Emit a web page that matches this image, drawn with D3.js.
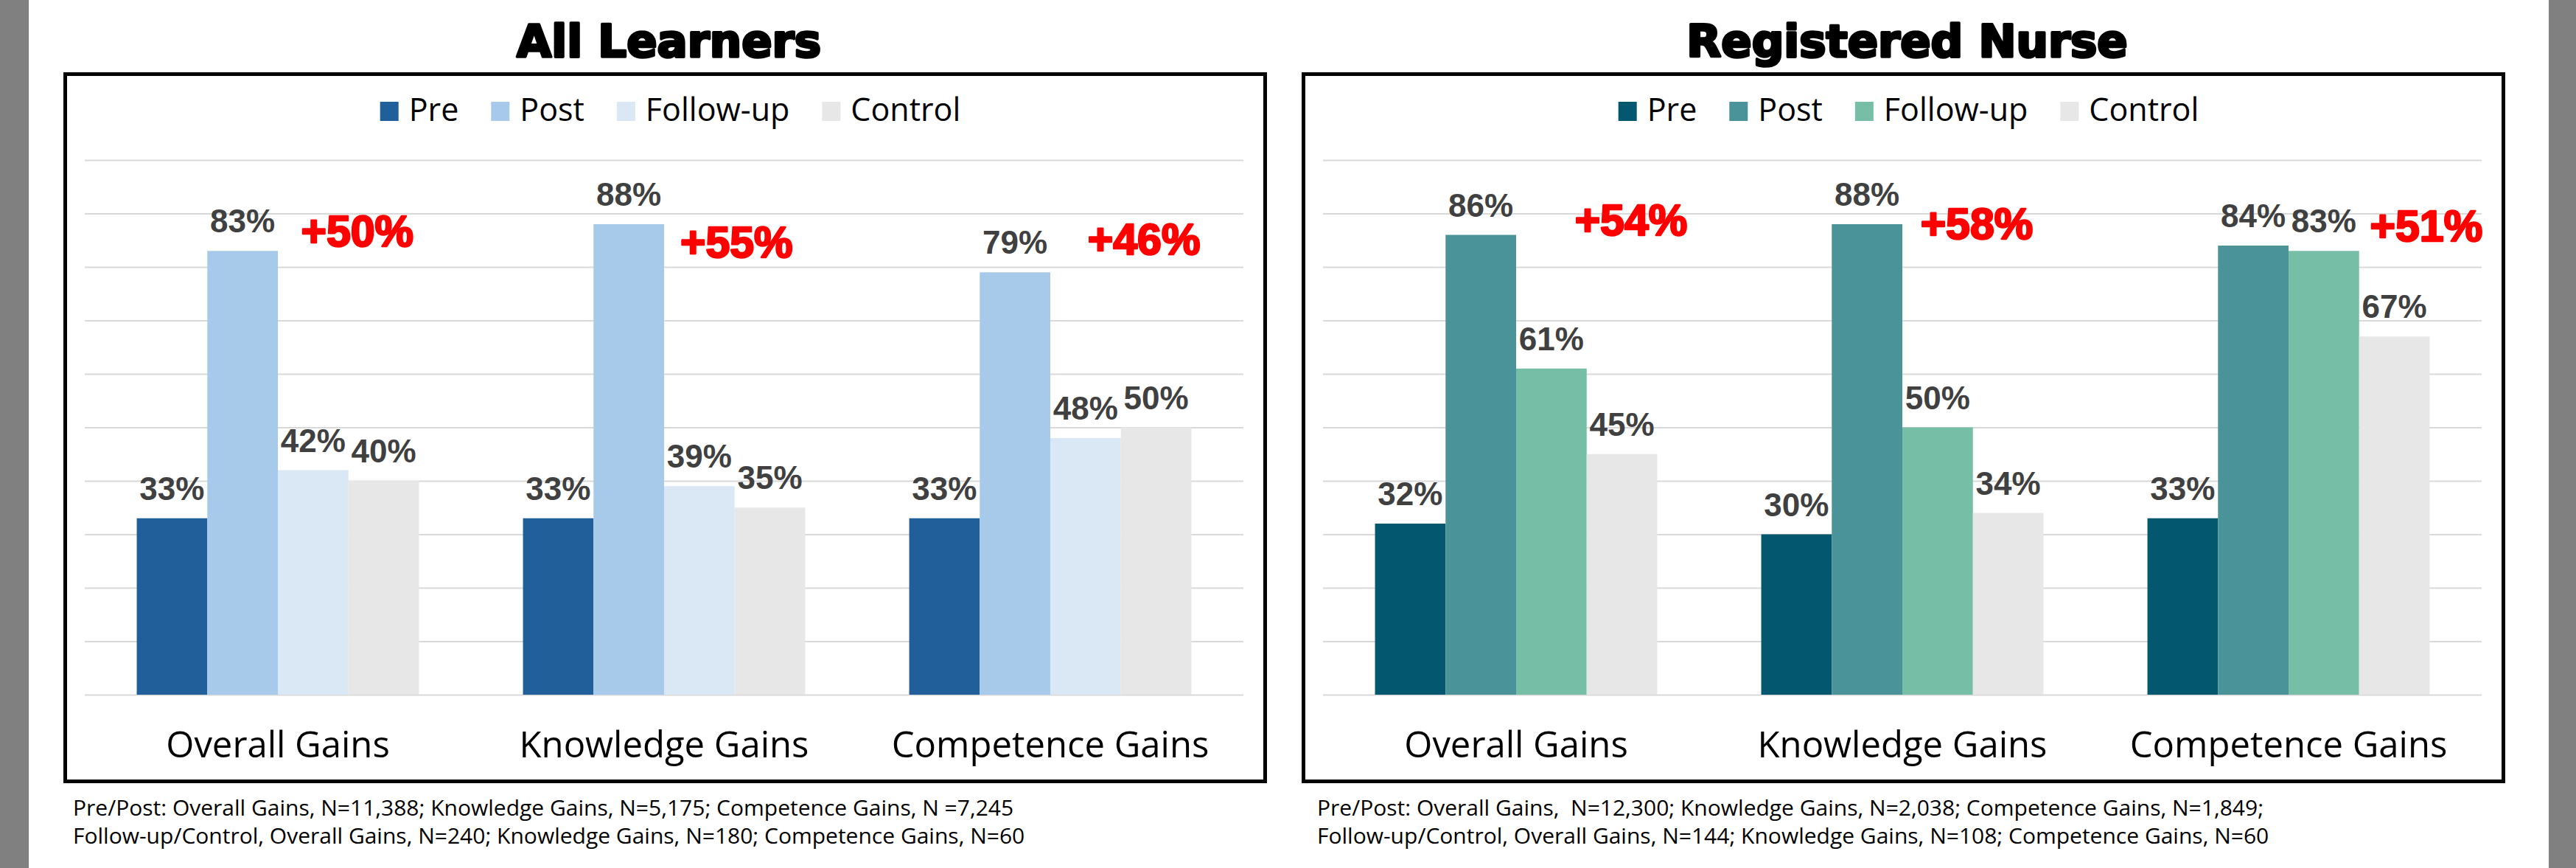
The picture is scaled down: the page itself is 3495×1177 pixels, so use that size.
<!DOCTYPE html>
<html>
<head>
<meta charset="utf-8">
<script src="https://cdn.jsdelivr.net/npm/d3@7"></script>
<style>
  html, body { margin: 0; padding: 0; background: #fff; }
  svg { display: block; }
</style>
</head>
<body>
<div id="chart"></div>
<script>
const categories = ["Overall Gains", "Knowledge Gains", "Competence Gains"];
const seriesNames = ["Pre", "Post", "Follow-up", "Control"];
const yTicks = [0, 10, 20, 30, 40, 50, 60, 70, 80, 90, 100];

// All Learners
const allPre = [33, 33, 33];
const allPost = [83, 88, 79];
const allFollowUp = [42, 39, 48];
const allControl = [40, 35, 50];
const allGains = ["+50%", "+55%", "+46%"];
const allNotes = [
    "Pre/Post: Overall Gains, N=11,388; Knowledge Gains, N=5,175; Competence Gains, N =7,245",
    "Follow-up/Control, Overall Gains, N=240; Knowledge Gains, N=180; Competence Gains, N=60"
];

// Registered Nurse
const rnPre = [32, 30, 33];
const rnPost = [86, 88, 84];
const rnFollowUp = [61, 50, 83];
const rnControl = [45, 34, 67];
const rnGains = ["+54%", "+58%", "+51%"];
const rnNotes = [
    "Pre/Post: Overall Gains,  N=12,300; Knowledge Gains, N=2,038; Competence Gains, N=1,849;",
    "Follow-up/Control, Overall Gains, N=144; Knowledge Gains, N=108; Competence Gains, N=60"
];

const allColors = ["#215F9A", "#A7CAEB", "#DAE8F6", "#E7E7E7"];
const rnColors = ["#03576F", "#4A9399", "#77BEA6", "#E7E7E7"];

// red gain labels: [fraction across category band, height in % units]
const allGainPos = [[0.56, 83.8], [0.542, 81.8], [0.597, 82.3]];
const rnGainPos = [[0.652, 85.9], [0.547, 85.2], [0.711, 84.8]];

const W = 3495, H = 1177;
const svg = d3.select("#chart").append("svg")
    .attr("width", W)
    .attr("height", H);

svg.append("rect").attr("x", 0).attr("y", 0).attr("width", 39).attr("height", H).attr("fill", "#808080");
svg.append("rect").attr("x", 3458).attr("y", 0).attr("width", W - 3458).attr("height", H).attr("fill", "#808080");

function drawPanel(opt) {
    const boxW = 1633, boxTop = 98, boxBottom = 1062;
    const plotLeft = opt.left + 29, plotW = 1572;
    const plotTop = 217, plotH = 725;

    const root = svg.append("g");

    root.append("rect")
        .attr("x", opt.left + 2.5)
        .attr("y", boxTop + 2.5)
        .attr("width", boxW - 5)
        .attr("height", boxBottom - boxTop - 5)
        .attr("fill", "#fff")
        .attr("stroke", "#000")
        .attr("stroke-width", 5);

    root.append("text")
        .attr("x", opt.left + boxW / 2 + 5)
        .attr("y", 77)
        .attr("text-anchor", "middle")
        .style("font-family", "'DejaVu Sans'")
        .style("font-weight", "bold")
        .style("font-size", "61px")
        .attr("fill", "#000")
        .attr("stroke", "#000")
        .attr("stroke-width", 3.5)
        .attr("stroke-linejoin", "round")
        .text(opt.title);

    // legend
    const leg = root.append("g");
    let lx = 0;
    seriesNames.forEach((s, i) => {
        leg.append("rect")
            .attr("x", lx).attr("y", 138)
            .attr("width", 25).attr("height", 26)
            .attr("fill", opt.colors[i]);
        const t = leg.append("text")
            .attr("x", lx + 39).attr("y", 164)
            .style("font-family", "'Open Sans'")
            .style("font-size", "43px")
            .attr("fill", "#000")
            .text(s);
        lx += 39 + t.node().getComputedTextLength() + 44;
    });
    const legW = lx - 44;
    leg.attr("transform", `translate(${opt.left + boxW / 2 + 7 - legW / 2},0)`);

    const g = root.append("g")
        .attr("transform", `translate(${plotLeft},${plotTop})`);

    const x0 = d3.scaleBand().domain(categories).range([0, plotW]);
    const x1 = d3.scaleBand().domain(seriesNames).range([0, x0.bandwidth()])
        .paddingInner(0).paddingOuter(0.737);
    const y = d3.scaleLinear().domain([0, 100]).range([plotH, 0]);

    g.append("g")
        .attr("class", "grid")
        .call(d3.axisLeft(y).tickValues(yTicks).tickSize(-plotW).tickFormat(""))
        .call(a => a.select(".domain").remove())
        .call(a => a.selectAll("line").attr("stroke", "#D9D9D9").attr("stroke-width", 2.2));

    g.append("g")
        .attr("class", "x axis")
        .attr("transform", `translate(0,${plotH})`)
        .call(d3.axisBottom(x0).tickSize(0))
        .call(a => a.select(".domain").remove())
        .call(a => a.selectAll("text")
            .attr("dy", null)
            .attr("y", 85)
            .style("font-family", "'Open Sans'")
            .style("font-size", "49px")
            .attr("fill", "#000"));

    const rows = [];
    categories.forEach((c, ci) => {
        seriesNames.forEach((s, si) => {
            rows.push({ cat: c, series: s, value: opt.series[si][ci], color: opt.colors[si] });
        });
    });

    g.selectAll(".bar")
        .data(rows)
        .enter().append("rect")
        .attr("class", "bar")
        .attr("x", d => x0(d.cat) + x1(d.series))
        .attr("width", x1.bandwidth())
        .attr("y", d => y(d.value))
        .attr("height", d => y(0) - y(d.value))
        .attr("fill", d => d.color);

    g.selectAll(".val")
        .data(rows)
        .enter().append("text")
        .attr("class", "val")
        .attr("x", d => x0(d.cat) + x1(d.series) + x1.bandwidth() / 2)
        .attr("y", d => y(d.value) - 25)
        .attr("text-anchor", "middle")
        .style("font-family", "'Liberation Sans'")
        .style("font-weight", "bold")
        .style("font-size", "44px")
        .attr("fill", "#404040")
        .text(d => d.value + "%");

    g.selectAll(".gain")
        .data(opt.gains)
        .enter().append("text")
        .attr("class", "gain")
        .attr("x", (d, i) => x0(categories[i]) + opt.gainPos[i][0] * x0.bandwidth())
        .attr("y", (d, i) => y(opt.gainPos[i][1]))
        .style("font-family", "'Liberation Sans'")
        .style("font-weight", "bold")
        .style("font-size", "59px")
        .attr("fill", "#FF0000")
        .attr("stroke", "#FF0000")
        .attr("stroke-width", 2.5)
        .attr("stroke-linejoin", "round")
        .text(d => d);

    root.selectAll(".note")
        .data(opt.notes)
        .enter().append("text")
        .attr("class", "note")
        .attr("x", opt.noteX)
        .attr("y", (d, i) => 1106 + i * 38)
        .style("font-family", "'Open Sans'")
        .style("font-size", "30px")
        .style("white-space", "pre")
        .attr("fill", "#000")
        .text(d => d);
}

drawPanel({
    left: 86, title: "All Learners", colors: allColors,
    series: [allPre, allPost, allFollowUp, allControl],
    gains: allGains, gainPos: allGainPos, notes: allNotes, noteX: 99
});
drawPanel({
    left: 1766, title: "Registered Nurse", colors: rnColors,
    series: [rnPre, rnPost, rnFollowUp, rnControl],
    gains: rnGains, gainPos: rnGainPos, notes: rnNotes, noteX: 1787
});
</script>
</body>
</html>
